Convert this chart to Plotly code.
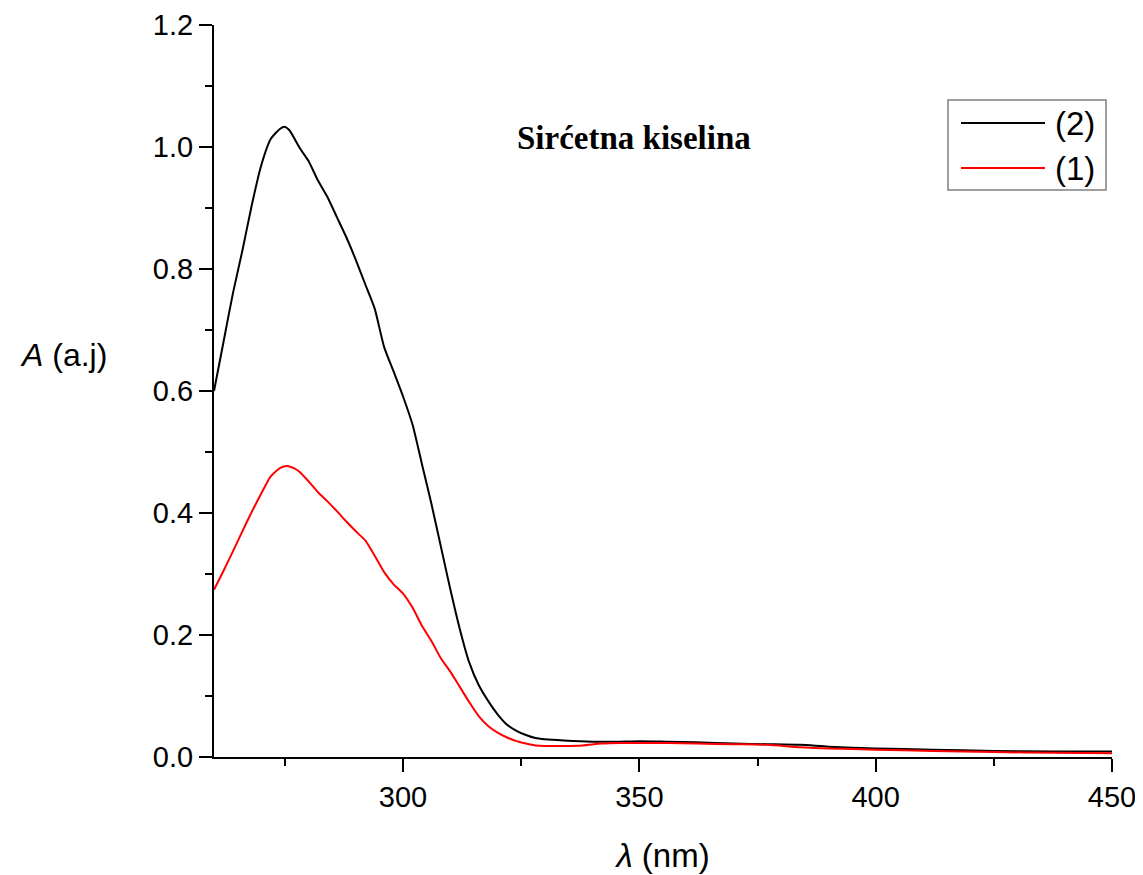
import plotly.graph_objects as go

# Wavelength (nm) and absorbance (a.j)
wl_2 = [260, 262, 264, 266, 268, 270, 272, 274, 275, 276, 278, 280, 282, 284, 286, 288,
        290, 292, 294, 296, 298, 300, 302, 304, 306, 308, 310, 312, 314, 316, 318, 320,
        322, 324, 326, 328, 330, 334, 340, 345, 350, 356, 362, 370, 377, 384, 390, 400,
        412, 425, 438, 450]
abs_2 = [0.600, 0.680, 0.760, 0.830, 0.905, 0.970, 1.013, 1.030, 1.033, 1.027, 1.000, 0.977,
         0.945, 0.918, 0.885, 0.852, 0.815, 0.775, 0.735, 0.672, 0.632, 0.591, 0.545, 0.480,
         0.415, 0.345, 0.275, 0.210, 0.155, 0.118, 0.092, 0.070, 0.053, 0.043, 0.036, 0.031,
         0.029, 0.027, 0.025, 0.025, 0.026, 0.025, 0.024, 0.022, 0.021, 0.020, 0.017, 0.014,
         0.012, 0.010, 0.009, 0.009]

wl_1 = [260, 262, 264, 266, 268, 270, 272, 274, 275.5, 277, 278, 280, 282, 284, 286, 288,
        290, 292, 294, 296, 298, 300, 302, 304, 306, 308, 310, 312, 314, 316, 318, 320,
        322, 324, 326, 328, 330, 334, 338, 342, 346, 350, 356, 362, 370, 377, 384, 390,
        400, 412, 425, 438, 450]
abs_1 = [0.274, 0.305, 0.337, 0.370, 0.402, 0.432, 0.460, 0.474, 0.477, 0.473, 0.468, 0.452,
         0.434, 0.419, 0.403, 0.386, 0.370, 0.355, 0.330, 0.303, 0.283, 0.268, 0.245, 0.215,
         0.190, 0.162, 0.140, 0.115, 0.090, 0.067, 0.051, 0.040, 0.032, 0.026, 0.022, 0.019,
         0.018, 0.018, 0.019, 0.022, 0.023, 0.023, 0.023, 0.022, 0.021, 0.020, 0.016, 0.014,
         0.012, 0.010, 0.008, 0.007, 0.006]

series_names = ["(2)", "(1)"]
series_colors = ["#000000", "#ff0000"]
title_text = "Sirćetna kiselina"

fig = go.Figure()
fig.add_trace(go.Scatter(x=wl_2, y=abs_2, mode="lines", name=series_names[0],
                         line=dict(color=series_colors[0], width=2, shape="spline", smoothing=0.6),
                         showlegend=False))
fig.add_trace(go.Scatter(x=wl_1, y=abs_1, mode="lines", name=series_names[1],
                         line=dict(color=series_colors[1], width=2, shape="spline", smoothing=0.6),
                         showlegend=False))

font_family = "Liberation Sans, Arial, sans-serif"

# The page body has an 8px default margin, so the figure is 8px smaller than the window
fig.update_layout(
    width=1135, height=867,
    margin=dict(l=206, r=31, t=17, b=118),
    paper_bgcolor="white", plot_bgcolor="white",
    font=dict(family=font_family, color="black", size=29),
    showlegend=False,
)

fig.update_xaxes(
    range=[260, 450], tick0=300, dtick=50, automargin=False,
    showline=True, linecolor="black", linewidth=2, mirror=False,
    ticks="outside", ticklen=13, tickwidth=2, tickcolor="black",
    minor=dict(dtick=25, tick0=275, ticks="outside", ticklen=7, tickwidth=2, tickcolor="black"),
    showgrid=False, zeroline=False,
    tickfont=dict(size=29, family=font_family),
    title=dict(text="<i>λ</i> (nm)", font=dict(size=33, family=font_family), standoff=32),
)
fig.update_yaxes(
    range=[0, 1.2], tick0=0, dtick=0.2, tickformat=".1f", automargin=False,
    showline=True, linecolor="black", linewidth=2, mirror=False,
    ticks="outside", ticklen=13, tickwidth=2, tickcolor="black",
    minor=dict(dtick=0.1, ticks="outside", ticklen=7, tickwidth=2, tickcolor="black"),
    showgrid=False, zeroline=False,
    tickfont=dict(size=29, family=font_family),
)


# Page-pixel to paper-coordinate helpers (plot area: x 214..1112, y 25..757 on the page)
def px_x(p):
    return (p - 214) / 898


def px_y(p):
    return (757 - p) / 732


# Horizontal y-axis title
fig.add_annotation(text="<i>A</i> (a.j)", xref="paper", yref="paper",
                   x=px_x(18), y=px_y(355), xanchor="left", yanchor="middle",
                   showarrow=False, font=dict(size=32, family=font_family))

# In-plot label
fig.add_annotation(text="<b>" + title_text + "</b>", xref="paper", yref="paper",
                   x=px_x(634), y=px_y(138), xanchor="center", yanchor="middle",
                   showarrow=False, font=dict(size=33, family="Liberation Serif, Times New Roman, serif"))

# Legend drawn in paper coordinates
fig.add_shape(type="rect", xref="paper", yref="paper",
              x0=px_x(948), x1=px_x(1106), y0=px_y(190), y1=px_y(100),
              line=dict(color="#7f7f7f", width=1.5), fillcolor="white", layer="above")
legend_rows = [123, 168]
for name, color, row in zip(series_names, series_colors, legend_rows):
    fig.add_shape(type="line", xref="paper", yref="paper",
                  x0=px_x(961), x1=px_x(1045), y0=px_y(row), y1=px_y(row),
                  line=dict(color=color, width=2), layer="above")
    fig.add_annotation(text=name, xref="paper", yref="paper",
                       x=px_x(1053), y=px_y(row), xanchor="left", yanchor="middle",
                       showarrow=False, font=dict(size=33, family=font_family))

fig.write_html("out.html")
